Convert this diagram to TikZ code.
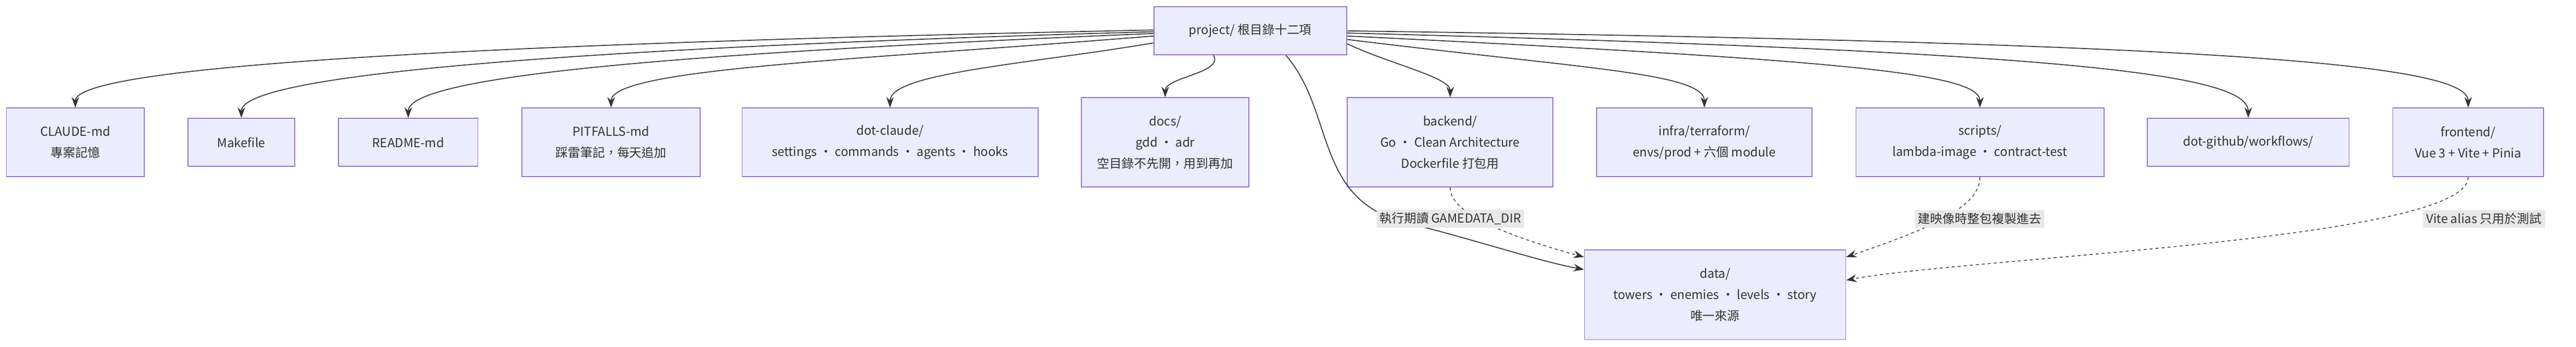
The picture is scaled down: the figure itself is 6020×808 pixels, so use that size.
\documentclass[tikz,border=0pt]{standalone}
\usepackage{fontspec}
\setmainfont{Noto Sans CJK TC}
\usetikzlibrary{arrows.meta,calc}
\definecolor{boxfill}{HTML}{ECECFF}
\definecolor{boxline}{HTML}{9370DB}
\definecolor{edge}{HTML}{333333}
\definecolor{lblfill}{HTML}{E8E8E8}
\begin{document}
\begin{tikzpicture}[x=0.01cm,y=-0.01cm,
  box/.style={draw=boxline,fill=boxfill,line width=0.6pt,align=center,inner sep=0pt,font=\fontsize{8.2}{14}\selectfont,text=edge},
  e/.style={draw=edge,line width=0.6pt,-{Stealth[length=7pt,width=5pt]}},
  d/.style={e,dash pattern=on 2pt off 2pt,line width=0.5pt},
  lbl/.style={fill=lblfill,inner sep=2pt,font=\fontsize{8.2}{14}\selectfont,text=edge}]
\useasboundingbox (0,0) rectangle (6020,808);
\node[box,minimum width=4.50cm,minimum height=1.12cm] (p) at (2922,72) {project/ 根目錄十二項};
\node[box,minimum width=3.22cm,minimum height=1.60cm] (claude) at (176,332) {CLAUDE-md\\專案記憶};
\node[box,minimum width=2.49cm,minimum height=1.12cm] (make) at (564,332) {Makefile};
\node[box,minimum width=3.25cm,minimum height=1.12cm] (readme) at (954,332) {README-md};
\node[box,minimum width=4.16cm,minimum height=1.60cm] (pit) at (1428,332) {PITFALLS-md\\踩雷筆記，每天追加};
\node[box,minimum width=6.91cm,minimum height=1.60cm] (dc) at (2080,332) {dot-claude/\\settings · commands · agents · hooks};
\node[box,minimum width=3.91cm,minimum height=2.08cm] (docs) at (2723,332) {docs/\\gdd · adr\\空目錄不先開，用到再加};
\node[box,minimum width=4.80cm,minimum height=2.08cm] (be) at (3389,332) {backend/\\Go · Clean Architecture\\Dockerfile 打包用};
\node[box,minimum width=5.03cm,minimum height=1.60cm] (infra) at (3983,332) {infra/terraform/\\envs/prod + 六個 module};
\node[box,minimum width=5.79cm,minimum height=1.60cm] (scr) at (4627,332) {scripts/\\lambda-image · contract-test};
\node[box,minimum width=4.71cm,minimum height=1.12cm] (gh) at (5254,332) {dot-github/workflows/};
\node[box,minimum width=3.52cm,minimum height=1.60cm] (fe) at (5768,332) {frontend/\\Vue 3 + Vite + Pinia};
\node[box,minimum width=6.10cm,minimum height=2.09cm] (data) at (4008,687) {data/\\towers · enemies · levels · story\\唯一來源};

\draw[e] ($(p.west)+(0,-2)$) .. controls (1200,100) and (176,150) .. (claude.north);
\draw[e] ($(p.west)+(0,2)$) .. controls (1400,110) and (564,170) .. (make.north);
\draw[e] ($(p.west)+(0,6)$) .. controls (1700,120) and (954,170) .. (readme.north);
\draw[e] ($(p.west)+(0,12)$) .. controls (2000,140) and (1428,160) .. (pit.north);
\draw[e] ($(p.west)+(0,28)$) .. controls (2400,150) and (2080,170) .. (dc.north);
\draw[e] ($(p.south west)+(140,0)$) .. controls (2860,170) and (2723,180) .. (docs.north);
\draw[e] ($(p.east)+(0,30)$) .. controls (3250,150) and (3389,180) .. (be.north);
\draw[e] ($(p.east)+(0,20)$) .. controls (3700,160) and (3983,170) .. (infra.north);
\draw[e] ($(p.east)+(0,12)$) .. controls (4300,140) and (4627,170) .. (scr.north);
\draw[e] ($(p.east)+(0,5)$) .. controls (4800,120) and (5254,170) .. (gh.north);
\draw[e] ($(p.east)+(0,0)$) .. controls (5200,100) and (5768,150) .. (fe.north);

\draw[e] ($(p.south)+(83,0)$) .. controls (3120,260) and (3070,470) .. (3290,520) .. controls (3450,560) and (3600,610) .. ($(data.north west)+(0,47)$);
\draw[d] (be.south) .. controls (3389,480) and (3450,530) .. ($(data.north west)+(0,18)$);
\draw[d] (scr.south) .. controls (4627,480) and (4520,530) .. ($(data.north east)+(0,18)$);
\draw[d] (fe.south) .. controls (5768,560) and (4600,600) .. ($(data.north east)+(0,72)$);
\node[lbl] (l1) at (3389,510) {執行期讀 GAMEDATA\_DIR};
\node[lbl] (l2) at (4626,510) {建映像時整包複製進去};
\node[lbl] (l3) at (5805,510) {Vite alias 只用於測試};
\end{tikzpicture}
\end{document}
